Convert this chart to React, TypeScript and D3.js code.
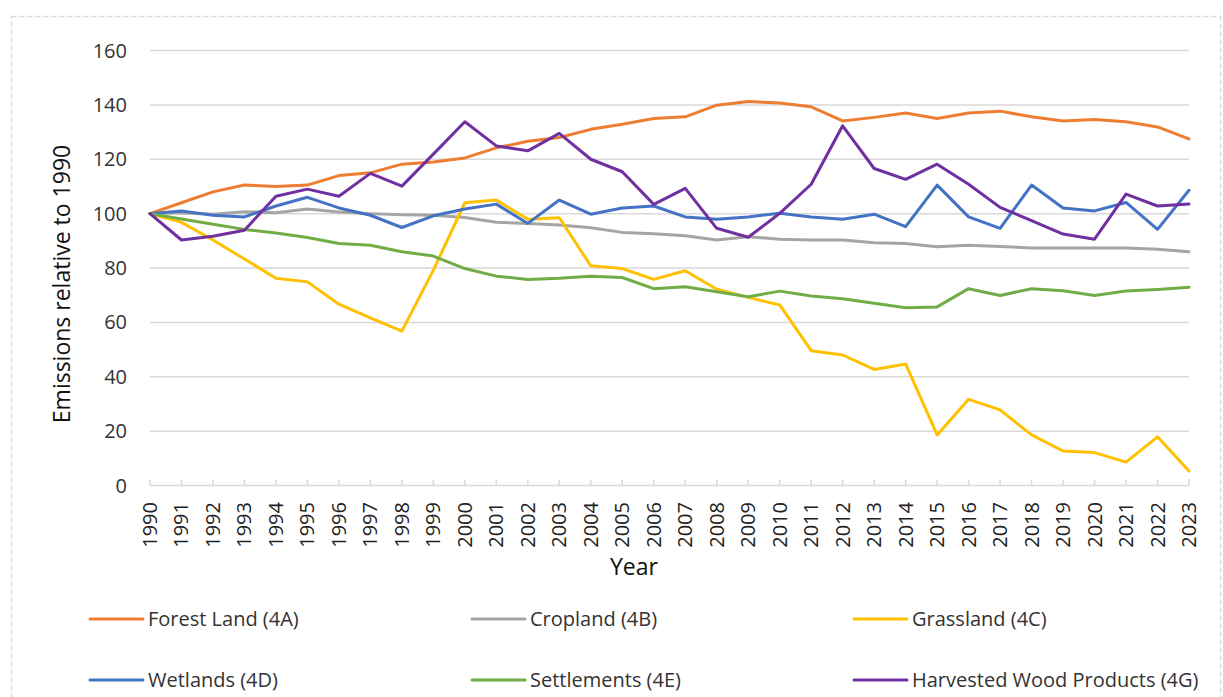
import React from 'react';
import * as d3 from 'd3';

const years = d3.range(1990, 2024).map(String);

const forestLand = [100, 104, 108, 110.5, 110, 110.5, 114, 115, 118.2, 119, 120.5, 124.2, 126.6, 128, 131, 132.9, 135, 135.6, 139.9, 141.2, 140.7, 139.3, 134.1, 135.4, 137, 135, 137, 137.7, 135.6, 134.1, 134.6, 133.8, 131.9, 127.5];
const cropland = [100, 100.3, 99.8, 100.7, 100.3, 101.7, 100.6, 100, 99.6, 99.4, 98.6, 96.8, 96.4, 95.8, 94.8, 93.1, 92.6, 91.9, 90.3, 91.5, 90.6, 90.3, 90.3, 89.3, 89, 87.8, 88.4, 87.9, 87.4, 87.4, 87.4, 87.4, 86.9, 86];
const grassland = [100, 96.8, 90.3, 83.3, 76.2, 74.9, 66.7, 61.7, 56.8, 79.2, 104, 105, 97.9, 98.5, 80.8, 79.8, 75.8, 79, 72.2, 69.2, 66.4, 49.6, 48, 42.7, 44.7, 18.6, 31.7, 27.8, 18.6, 12.7, 12.1, 8.6, 17.9, 5.3];
const wetlands = [100, 101, 99.4, 98.8, 102.8, 106, 102.1, 99.4, 94.9, 99.2, 101.7, 103.5, 96.4, 105, 99.8, 102.1, 102.8, 98.8, 97.9, 98.8, 100.1, 98.8, 97.9, 99.8, 95.2, 110.5, 98.8, 94.6, 110.5, 102.1, 101, 104.1, 94.2, 108.6];
const settlements = [100, 98, 96.1, 94.2, 92.9, 91.2, 89, 88.4, 86, 84.4, 79.8, 77, 75.8, 76.2, 77, 76.5, 72.4, 73.1, 71.3, 69.4, 71.5, 69.7, 68.7, 67, 65.4, 65.7, 72.4, 69.9, 72.4, 71.6, 69.9, 71.5, 72.1, 72.9];
const harvestedWood = [100, 90.3, 91.7, 93.9, 106.4, 109, 106.4, 114.8, 110.1, 121.9, 133.8, 124.9, 123.1, 129.5, 120, 115.4, 103.4, 109.3, 94.6, 91.3, 100.1, 110.8, 132.3, 116.6, 112.6, 118.2, 110.8, 102.3, 97.4, 92.5, 90.6, 107.2, 102.8, 103.5];

const seriesNames = ['Forest Land (4A)', 'Cropland (4B)', 'Grassland (4C)', 'Wetlands (4D)', 'Settlements (4E)', 'Harvested Wood Products (4G)'];
const seriesValues = [forestLand, cropland, grassland, wetlands, settlements, harvestedWood];
const seriesColors = ['#ED7D31', '#A5A5A5', '#FFC000', '#4472C4', '#70AD47', '#7030A0'];
const yTicks = [0, 20, 40, 60, 80, 100, 120, 140, 160];

const W = 1223;
const H = 697;
const FONT = '"Open Sans", Lato, sans-serif';

export default function App() {
  const x = d3.scalePoint<string>().domain(years).range([150, 1189]);
  const y = d3.scaleLinear().domain([0, 160]).range([485.5, 50.5]);
  const line = d3.line<number>()
    .x((_, i) => x(years[i]) as number)
    .y(d => y(d));

  // legend is 3 columns x 2 rows under the plot
  const legendCols = [90, 472, 854];
  const legendRows = [619, 680];

  return (
    <svg width={W} height={H} style={{ position: 'absolute', left: 0, top: 0, background: '#fff' }} fontFamily={FONT}>
      <rect x={11.5} y={16.5} width={1209} height={700} fill="none" stroke="#D9D9D9" strokeWidth={1.5} strokeDasharray="5,3" />

      {yTicks.filter(t => t > 0).map(t => (
        <line key={t} x1={150} x2={1189} y1={y(t)} y2={y(t)} stroke="#D9D9D9" strokeWidth={1.5} />
      ))}
      <line x1={150} x2={1189} y1={y(0)} y2={y(0)} stroke="#D9D9D9" strokeWidth={1.5} />
      {years.map(yr => (
        <line key={yr} x1={x(yr)} x2={x(yr)} y1={y(0)} y2={y(0) - 6} stroke="#D9D9D9" strokeWidth={1.5} />
      ))}

      {yTicks.map(t => (
        <text key={t} x={127} y={y(t)} dy="0.35em" textAnchor="end" fontSize={20} fill="#333">{t}</text>
      ))}
      {years.map(yr => (
        <text key={yr} transform={`translate(${x(yr)},502) rotate(-90)`} dy="0.35em" textAnchor="end" fontSize={20} fill="#222">{yr}</text>
      ))}

      <text transform="translate(62,284) rotate(-90)" dy="0.35em" textAnchor="middle" fontSize={23} fill="#111">Emissions relative to 1990</text>
      <text x={634} y={575} textAnchor="middle" fontSize={23} fill="#111">Year</text>

      {seriesValues.map((vals, i) => (
        <path key={seriesNames[i]} d={line(vals) || ''} fill="none" stroke={seriesColors[i]} strokeWidth={3} strokeLinejoin="round" strokeLinecap="round" />
      ))}

      {seriesNames.map((name, i) => {
        const lx = legendCols[i % 3];
        const ly = legendRows[Math.floor(i / 3)];
        return (
          <g key={name}>
            <line x1={lx} x2={lx + 53} y1={ly} y2={ly} stroke={seriesColors[i]} strokeWidth={3} strokeLinecap="round" />
            <text x={lx + 58} y={ly} dy="0.35em" fontSize={20} fill="#333">{name}</text>
          </g>
        );
      })}
    </svg>
  );
}
